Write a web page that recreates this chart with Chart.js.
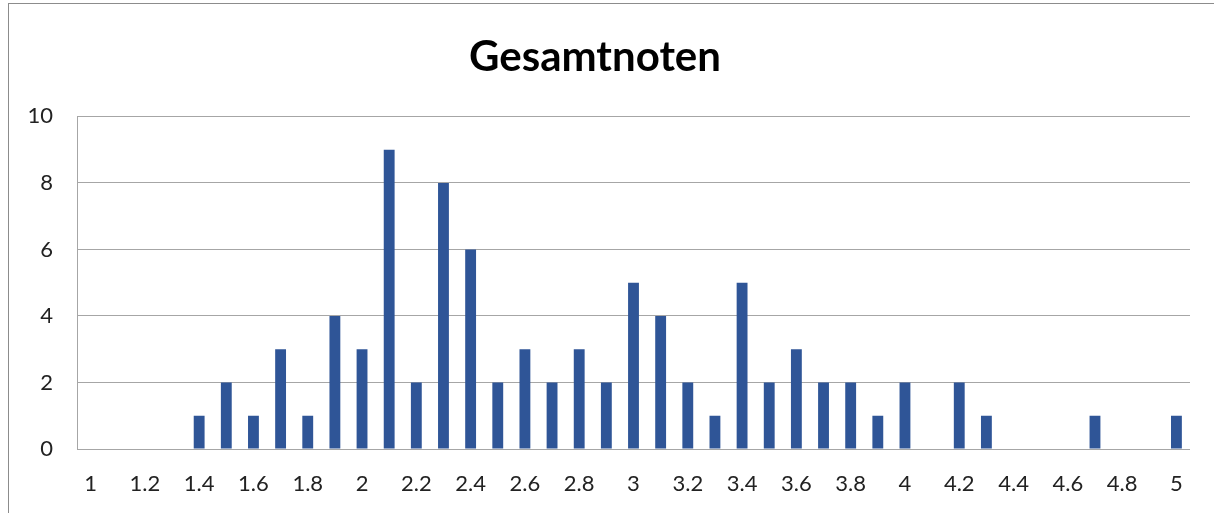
<!DOCTYPE html>
<html>
<head>
<meta charset="utf-8">
<script src="https://cdn.jsdelivr.net/npm/chart.js@4.4.0/dist/chart.umd.min.js"></script>
<style>
	html, body { margin: 0; padding: 0; background: #fff; overflow: hidden; }
	#wrap { position: absolute; left: 0; top: 0; width: 1214px; height: 513px; }
	#frame { position: absolute; left: 8px; top: 3px; right: 0; bottom: 0; border-left: 1px solid #8c8c8c; border-top: 1px solid #8c8c8c; pointer-events: none; }
</style>
</head>
<body>
<div id="wrap"><canvas id="barChart" width="1214" height="513"></canvas></div>
<div id="frame"></div>
<script>
// Notenstufen (Kategorien)
var categories = ['1', '1.1', '1.2', '1.3', '1.4', '1.5', '1.6', '1.7', '1.8', '1.9',
	'2', '2.1', '2.2', '2.3', '2.4', '2.5', '2.6', '2.7', '2.8', '2.9',
	'3', '3.1', '3.2', '3.3', '3.4', '3.5', '3.6', '3.7', '3.8', '3.9',
	'4', '4.1', '4.2', '4.3', '4.4', '4.5', '4.6', '4.7', '4.8', '4.9', '5'];
// Anzahl je Note
var counts = [0, 0, 0, 0, 1, 2, 1, 3, 1, 4,
	3, 9, 2, 8, 6, 2, 3, 2, 3, 2,
	5, 4, 2, 1, 5, 2, 3, 2, 2, 1,
	2, 0, 2, 1, 0, 0, 0, 1, 0, 0, 1];
var yTicks = [0, 2, 4, 6, 8, 10];

var Charts = function () {
	"use strict";
	var barChartHandler = function () {
		var data = {
			labels: categories,
			datasets: [{
				label: "Gesamtnoten",
				backgroundColor: "#2f5597",
				borderWidth: 0,
				categoryPercentage: 1.0,
				barPercentage: 0.4,
				data: counts
			}]
		};

		var options = {
			responsive: false,
			animation: false,
			layout: {
				padding: { top: 32, right: 24, bottom: 18, left: 0 }
			},
			plugins: {
				legend: { display: false },
				tooltip: { enabled: false },
				title: {
					display: true,
					text: "Gesamtnoten",
					color: "#000",
					font: { family: "Lato", size: 42, weight: "bold" },
					padding: { top: 0, bottom: 34 }
				}
			},
			scales: {
				x: {
					afterFit: function (scale) { scale.height = 46; },
					grid: { display: false, drawTicks: false },
					border: { display: false },
					ticks: {
						autoSkip: false,
						maxRotation: 0,
						padding: 22,
						color: "#222",
						font: { family: "Lato", size: 22 },
						callback: function (val, i) {
							return i % 2 === 0 ? categories[i] : '';
						}
					}
				},
				y: {
					min: yTicks[0],
					max: yTicks[yTicks.length - 1],
					afterFit: function (scale) { scale.width = 77; },
					afterBuildTicks: function (scale) {
						scale.ticks = yTicks.map(function (v) { return { value: v }; });
					},
					grid: { color: "#a6a6a6", lineWidth: 1, drawTicks: false },
					border: { display: true, color: "#a6a6a6" },
					ticks: {
						padding: 24,
						color: "#222",
						font: { family: "Lato", size: 22 }
					}
				}
			}
		};

		var ctx = document.getElementById("barChart").getContext("2d");
		new Chart(ctx, {
			type: 'bar',
			data: data,
			options: options
		});
	};

	return {
		init: function () {
			barChartHandler();
		}
	};
}();

Charts.init();
</script>
</body>
</html>
